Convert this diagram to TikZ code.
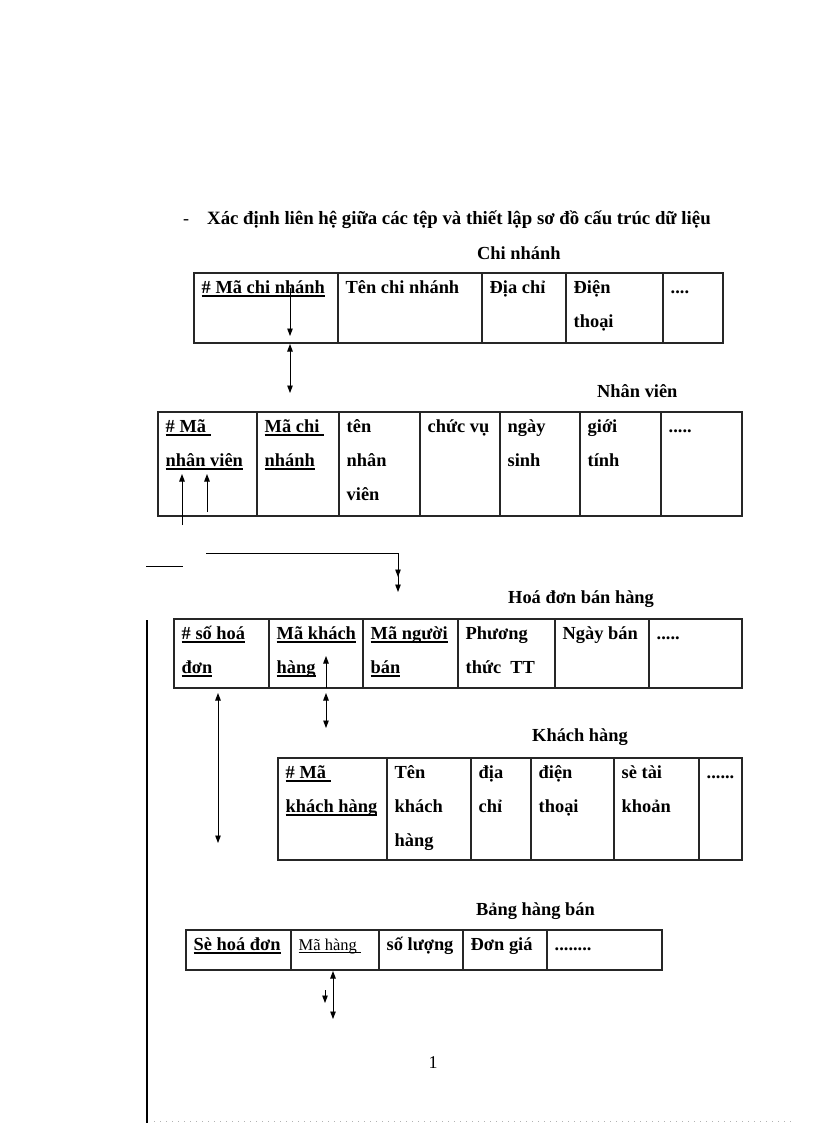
\documentclass[tikz,border=0pt]{standalone}
\usepackage{fontspec}
\setmainfont{Liberation Serif}
\usetikzlibrary{arrows.meta}
\newcommand\myul[1]{\setbox0=\hbox{#1}\rlap{\rule[-3.5bp]{\wd0}{1.6bp}}\box0}
\newcommand\myulthin[1]{\setbox0=\hbox{#1}\rlap{\rule[-2.5bp]{\wd0}{0.8bp}}\box0}
% name, x-left, x-right, top, bottom, text
\newcommand\tcell[6]{%
  \node[cellbox, minimum width={#3bp-#2bp}, minimum height={#5bp-#4bp}, anchor=north west] (#1) at (#2,#4) {};
  \node[celltext, anchor=base west] (#1t) at ([xshift=7.5bp,yshift=-20.5bp]#1.north west) {\begin{tabular}[t]{@{}l@{}}#6\end{tabular}};}
\begin{document}
\begin{tikzpicture}[x=1bp,y=-1bp,
  cellbox/.style={draw=black!85, line width=1.2bp, inner sep=0pt, outer sep=0pt},
  celltext/.style={inner sep=0pt, font=\fontsize{18.4bp}{34bp}\selectfont\bfseries},
  lbl/.style={inner sep=0pt, anchor=base west, font=\fontsize{18.4bp}{22bp}\selectfont\bfseries},
  plain/.style={inner sep=0pt, anchor=base west, font=\fontsize{18bp}{22bp}\selectfont},
  arr/.style={line width=0.9bp, -{Triangle[length=7.5bp,width=5.5bp]}},
  darr/.style={line width=0.9bp, {Triangle[length=7.5bp,width=5.5bp]}-{Triangle[length=7.5bp,width=5.5bp]}},
  ln/.style={line width=0.9bp}]
\useasboundingbox (0,0) rectangle (816,1123);
\fill[white] (0,0) rectangle (816,1123);

% title
\node[plain] (dash) at (183,224) {-};
\node[lbl, font=\fontsize{18.8bp}{22bp}\selectfont\bfseries] (title) at (207,224) {Xác định liên hệ giữa các tệp và thiết lập sơ đồ cấu trúc dữ liệu};

% Chi nhanh
\node[lbl] (lcn) at (477,259) {Chi nhánh};
\tcell{cna}{194}{338}{273}{343}{\myul{\# Mã chi nhánh}}
\tcell{cnb}{338}{482}{273}{343}{Tên chi nhánh}
\tcell{cnc}{482}{566}{273}{343}{Địa chỉ}
\tcell{cnd}{566}{663}{273}{343}{Điện\\thoại}
\tcell{cne}{663}{723}{273}{343}{....}

% Nhan vien
\node[lbl] (lnv) at (597,397) {Nhân viên};
\tcell{nva}{158}{257}{412}{516}{\myul{\# Mã }\\\myul{nhân viên}}
\tcell{nvb}{257}{339}{412}{516}{\myul{Mã chi }\\\myul{nhánh}}
\tcell{nvc}{339}{420}{412}{516}{tên\\nhân\\viên}
\tcell{nvd}{420}{500}{412}{516}{chức vụ}
\tcell{nve}{500}{580}{412}{516}{ngày\\sinh}
\tcell{nvf}{580}{661}{412}{516}{giới\\tính}
\tcell{nvg}{661}{742}{412}{516}{.....}

% Hoa don ban hang
\node[lbl] (lhd) at (508,603) {Hoá đơn bán hàng};
\tcell{hda}{174}{269}{619}{688}{\myul{\# số hoá}\\\myul{đơn}}
\tcell{hdb}{269}{363}{619}{688}{\myul{Mã khách}\\\myul{hàng}}
\tcell{hdc}{363}{458}{619}{688}{\myul{Mã người}\\\myul{bán}}
\tcell{hdd}{458}{555}{619}{688}{Phương\\thức~ TT}
\tcell{hde}{555}{649}{619}{688}{Ngày bán}
\tcell{hdf}{649}{742}{619}{688}{.....}

% Khach hang
\node[lbl] (lkh) at (532,741) {Khách hàng};
\tcell{kha}{278}{387}{758}{860}{\myul{\# Mã }\\\myul{khách hàng}}
\tcell{khb}{387}{471}{758}{860}{Tên\\khách\\hàng}
\tcell{khc}{471}{531}{758}{860}{địa\\chỉ}
\tcell{khd}{531}{614}{758}{860}{điện\\thoại}
\tcell{khe}{614}{699}{758}{860}{sè tài\\khoản}
\tcell{khf}{699}{742}{758}{860}{......}

% Bang hang ban
\node[lbl] (lbh) at (476,915) {Bảng hàng bán};
\tcell{bha}{186}{291}{930}{970}{\myul{Sè hoá đơn}}
\tcell{bhb}{291}{379}{930}{970}{{\fontsize{16.5bp}{34bp}\selectfont\mdseries\myulthin{Mã hàng }}}
\tcell{bhc}{379}{463}{930}{970}{số lượng}
\tcell{bhd}{463}{547}{930}{970}{Đơn giá}
\tcell{bhe}{547}{662}{930}{970}{........}

% page number
\node[plain, anchor=base] (pg) at (433,1068) {1};

% connector end points
\coordinate (a1s) at (290,288);
\coordinate (a1e) at (290,336);
\coordinate (a2s) at (290,344);
\coordinate (a2e) at (290,393);
\coordinate (a3s) at (182,525);
\coordinate (a3e) at (182,474);
\coordinate (a4s) at (207,512);
\coordinate (a4e) at (207,474);
\coordinate (a5s) at (146,566);
\coordinate (a5e) at (183,566);
\coordinate (a6s) at (206,553);
\coordinate (a6m) at (398,577);
\coordinate (a6e) at (398,592);
\coordinate (a7s) at (218,693);
\coordinate (a7e) at (218,843);
\coordinate (a8s) at (326,688);
\coordinate (a8e) at (326,656);
\coordinate (a9s) at (326,693);
\coordinate (a9e) at (326,728);
\coordinate (b1s) at (333,971);
\coordinate (b1e) at (333,1019);
\coordinate (b2s) at (325,990);
\coordinate (b2e) at (325,1003);
\coordinate (vls) at (147,620);
\coordinate (vle) at (147,1123);
\coordinate (dls) at (154,1121);
\coordinate (dle) at (795,1121);

% connectors
\draw[arr] (a1s) -- (a1e);
\draw[darr] (a2s) -- (a2e);
\draw[arr] (a3s) -- (a3e);
\draw[arr] (a4s) -- (a4e);
\draw[ln] (a5s) -- (a5e);
\draw[arr] (a6s) -| (a6e);
\draw[arr] (a6s -| a6m) ++(0,8) -- (a6m);
\draw[darr] (a7s) -- (a7e);
\draw[arr] (a8s) -- (a8e);
\draw[darr] (a9s) -- (a9e);
\draw[darr] (b1s) -- (b1e);
\draw[arr] (b2s) -- (b2e);
\draw[line width=1.3bp] (vls) -- (vle);
\draw[gray!60, line width=0.8bp, dash pattern=on 1bp off 5bp] (dls) -- (dle);
\end{tikzpicture}
\end{document}
